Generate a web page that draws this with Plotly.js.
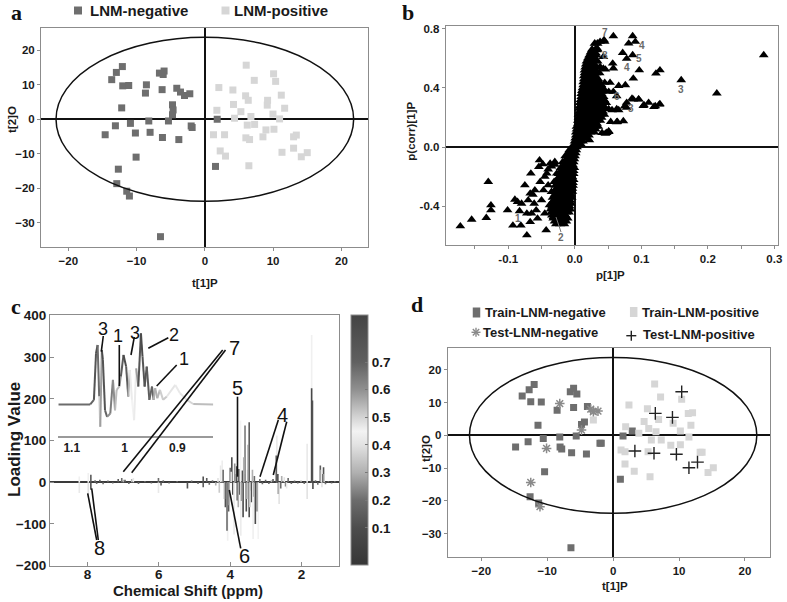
<!DOCTYPE html>
<html><head><meta charset="utf-8">
<script src="https://cdn.plot.ly/plotly-3.0.1.min.js"></script>
<style>html,body{margin:0;padding:0;background:#fff}#chart{width:787px;height:602px}</style>
</head><body><div id="chart"></div>
<script>
// ---------- Panel a : OPLS-DA scores ----------
const aNegX = [-12.96,-12.08,-13.64,-12.03,-11.15,-8.56,-8.70,-6.65,-5.97,-6.10,-6.26,-4.11,-3.57,-2.98,-2.20,-4.74,-4.65,-4.74,-5.33,-2.00,-1.86,-12.18,-8.21,-10.90,-13.10,-14.60,-10.17,-8.02,-6.21,-3.81,-10.07,-12.67,-12.90,-11.44,-11.05,-6.50,1.81,1.56];
const aNegY = [13.6,15.3,11.5,9.7,9.8,10.0,7.6,13.4,14.0,13.0,8.6,9.0,7.9,6.9,7.4,4.2,2.7,1.3,-0.5,-1.95,-2.4,3.3,-0.5,-1.2,-1.9,-4.5,-4.0,-3.8,-5.3,-5.9,-11.0,-14.5,-18.7,-20.9,-22.3,-34.1,0.0,-13.7];
const aPosX = [6.06,2.05,4.11,7.24,10.07,10.37,5.97,6.36,9.19,9.14,11.2,11.69,4.2,5.28,1.76,4.35,6.75,9.98,10.95,6.21,7.29,1.27,2.89,6.01,6.55,8.51,8.95,10.12,13.0,13.4,2.25,3.03,6.45,11.3,13.0,14.13,15.0];
const aPosY = [15.7,9.2,8.5,11.3,13.2,11.0,6.8,5.5,5.5,4.1,7.0,3.2,4.3,2.2,2.6,0.3,0.8,1.5,0.1,-1.7,-1.5,-4.5,-4.5,-5.4,-5.9,-5.1,-3.1,-2.9,-5.1,-4.6,-9.2,-10.7,-13.5,-9.6,-8.4,-10.9,-9.7];
const t1Ticks = [-20,-10,0,10,20];
const t2Ticks = [-30,-20,-10,0,10,20];
const ellipseT1 = 21.8, ellipseT2 = 23.8;

// ---------- Panel b : S-plot (p[1]P vs p(corr)[1]P) ----------
const pX = [
 0.284,0.2135,0.160,0.128,0.122,0.128,0.121,0.111,0.104,0.096,0.088,0.097,0.088,0.087,0.081,0.091,0.072,0.087,0.078,0.058,0.044,0.045,0.038,0.057,0.058,0.046,0.066,0.076,0.053,0.045,0.037,0.028,0.058,0.051,0.041,0.033,0.063,0.078,0.078,0.063,0.051,0.063,0.073,0.041,0.051,0.048,0.038,0.033,0.032,0.026,0.023,0.021,0.022,0.033,0.026,0.028,0.043,0.086,0.096,0.103,0.119,0.127,0.056,0.066,0.075,0.054,0.064,0.046,0.051,0.043,0.034,0.020,
 -0.172,-0.155,-0.133,-0.130,-0.126,-0.126,-0.101,-0.093,-0.090,-0.086,-0.083,-0.081,-0.072,-0.067,-0.066,-0.067,-0.061,-0.056,-0.053,-0.050,-0.048,-0.045,-0.043,-0.042,-0.040,-0.037,-0.035,-0.030,-0.032,-0.075,-0.072,-0.060,-0.052,-0.070,-0.080,-0.065,-0.058,-0.047,-0.027,-0.025,-0.022,-0.038,-0.031,-0.017,-0.012,-0.010,-0.054,-0.030,-0.063,-0.045,-0.040,-0.035
];
const pY = [
 0.622,0.363,0.453,0.520,0.498,0.291,0.277,0.300,0.284,0.324,0.322,0.520,0.464,0.750,0.700,0.712,0.637,0.622,0.597,0.750,0.723,0.712,0.712,0.565,0.532,0.525,0.414,0.419,0.435,0.435,0.435,0.435,0.374,0.374,0.374,0.374,0.345,0.266,0.300,0.257,0.257,0.169,0.176,0.097,0.108,0.097,0.543,0.655,0.633,0.577,0.520,0.554,0.047,0.500,0.480,0.450,0.610,0.328,0.322,0.279,0.272,0.288,0.250,0.250,0.276,0.171,0.171,0.092,0.103,0.531,0.665,0.575,
 -0.534,-0.489,-0.477,-0.234,-0.392,-0.426,-0.426,-0.529,-0.354,-0.369,-0.432,-0.529,-0.595,-0.505,-0.178,-0.313,-0.381,-0.482,-0.088,-0.358,-0.115,-0.448,-0.561,-0.178,-0.257,-0.110,-0.302,-0.099,-0.471,-0.257,-0.448,-0.291,-0.234,-0.358,-0.381,-0.448,-0.426,-0.291,-0.178,-0.358,-0.426,-0.392,-0.234,-0.448,-0.358,-0.403,-0.133,-0.118,-0.320,-0.200,-0.150,-0.130
];
// dense central band of the S-plot
const pCoreX = [
 -0.028,-0.022,-0.016,
 -0.030,-0.024,-0.018,-0.013,
 -0.032,-0.027,-0.021,-0.016,-0.011,
 -0.034,-0.029,-0.024,-0.019,-0.014,
 -0.035,-0.029,-0.023,-0.018,-0.013,-0.009,
 -0.036,-0.031,-0.026,-0.021,-0.016,-0.011,-0.007,
 -0.034,-0.028,-0.023,-0.018,-0.013,-0.008,
 -0.035,-0.030,-0.025,-0.020,-0.015,-0.010,-0.006,
 -0.032,-0.027,-0.022,-0.017,-0.012,-0.007,
 -0.033,-0.028,-0.023,-0.018,-0.013,-0.009,-0.005,
 -0.030,-0.024,-0.019,-0.014,-0.010,-0.006,
 -0.031,-0.026,-0.021,-0.016,-0.012,-0.008,-0.004,
 -0.027,-0.022,-0.017,-0.012,-0.008,-0.004,
 -0.029,-0.024,-0.019,-0.014,-0.010,-0.006,-0.003,
 -0.025,-0.020,-0.015,-0.010,-0.006,-0.003,
 -0.027,-0.022,-0.017,-0.012,-0.008,-0.004,-0.002,
 -0.022,-0.017,-0.012,-0.008,-0.004,
 -0.024,-0.019,-0.014,-0.010,-0.006,-0.002,
 -0.019,-0.014,-0.010,-0.006,-0.002,
 -0.021,-0.016,-0.012,-0.008,-0.004,-0.001,
 -0.016,-0.011,-0.007,-0.003,
 -0.018,-0.013,-0.009,-0.005,-0.002,
 -0.012,-0.008,-0.004,-0.001,
 -0.014,-0.010,-0.006,-0.003,0.000,
 -0.009,-0.005,-0.002,0.001,
 -0.008,-0.004,-0.001,0.002,
 -0.003,0.000,0.003,
 -0.001,0.002,0.005,0.009,
 0.000,0.004,0.008,0.012,
 0.001,0.005,0.009,0.014,0.019,
 0.002,0.006,0.011,0.016,0.021,
 0.002,0.007,0.012,0.017,0.023,0.029,
 0.003,0.008,0.013,0.019,0.025,0.031,
 0.003,0.008,0.013,0.018,0.024,0.030,0.035,
 0.005,0.010,0.015,0.021,0.027,0.033,
 0.005,0.010,0.015,0.020,0.026,0.032,0.038,
 0.006,0.011,0.017,0.023,0.029,0.035,0.040,
 0.006,0.011,0.016,0.021,0.027,0.033,0.039,0.044,
 0.007,0.012,0.018,0.024,0.030,0.036,0.042,
 0.007,0.012,0.017,0.022,0.028,0.034,0.040,0.046,
 0.008,0.014,0.019,0.025,0.031,0.037,0.043,
 0.008,0.013,0.018,0.023,0.029,0.035,0.041,0.047,
 0.009,0.015,0.020,0.026,0.032,0.038,0.044,
 0.010,0.015,0.020,0.025,0.031,0.037,0.043,
 0.010,0.016,0.021,0.027,0.033,0.040,
 0.011,0.016,0.021,0.026,0.032,0.038,0.045,
 0.012,0.017,0.022,0.028,0.035,0.042,
 0.013,0.018,0.023,0.028,0.034,0.040,
 0.013,0.018,0.024,0.030,0.036,
 0.014,0.019,0.024,0.029,0.035,
 0.014,0.019,0.025,0.031,
 0.015,0.020,0.025,0.031,0.037,
 0.015,0.020,0.026,0.032,
 0.016,0.021,0.027,0.033,
 0.017,0.022,0.028,
 0.018,0.023,0.029,0.034,
 0.020,0.025,0.030,
 0.022,0.027,0.032,
 0.024,0.029,
 0.026,0.031,0.034,
 0.030,0.034
];
const pCoreY = [
 -0.52,-0.52,-0.52,
 -0.50,-0.50,-0.50,-0.50,
 -0.48,-0.48,-0.48,-0.48,-0.48,
 -0.46,-0.46,-0.46,-0.46,-0.46,
 -0.44,-0.44,-0.44,-0.44,-0.44,-0.44,
 -0.42,-0.42,-0.42,-0.42,-0.42,-0.42,-0.42,
 -0.40,-0.40,-0.40,-0.40,-0.40,-0.40,
 -0.38,-0.38,-0.38,-0.38,-0.38,-0.38,-0.38,
 -0.36,-0.36,-0.36,-0.36,-0.36,-0.36,
 -0.34,-0.34,-0.34,-0.34,-0.34,-0.34,-0.34,
 -0.32,-0.32,-0.32,-0.32,-0.32,-0.32,
 -0.30,-0.30,-0.30,-0.30,-0.30,-0.30,-0.30,
 -0.28,-0.28,-0.28,-0.28,-0.28,-0.28,
 -0.26,-0.26,-0.26,-0.26,-0.26,-0.26,-0.26,
 -0.24,-0.24,-0.24,-0.24,-0.24,-0.24,
 -0.22,-0.22,-0.22,-0.22,-0.22,-0.22,-0.22,
 -0.20,-0.20,-0.20,-0.20,-0.20,
 -0.18,-0.18,-0.18,-0.18,-0.18,-0.18,
 -0.16,-0.16,-0.16,-0.16,-0.16,
 -0.14,-0.14,-0.14,-0.14,-0.14,-0.14,
 -0.12,-0.12,-0.12,-0.12,
 -0.10,-0.10,-0.10,-0.10,-0.10,
 -0.08,-0.08,-0.08,-0.08,
 -0.06,-0.06,-0.06,-0.06,-0.06,
 -0.04,-0.04,-0.04,-0.04,
 -0.02,-0.02,-0.02,-0.02,
 0.00,0.00,0.00,
 0.02,0.02,0.02,0.02,
 0.04,0.04,0.04,0.04,
 0.06,0.06,0.06,0.06,0.06,
 0.08,0.08,0.08,0.08,0.08,
 0.10,0.10,0.10,0.10,0.10,0.10,
 0.12,0.12,0.12,0.12,0.12,0.12,
 0.14,0.14,0.14,0.14,0.14,0.14,0.14,
 0.16,0.16,0.16,0.16,0.16,0.16,
 0.18,0.18,0.18,0.18,0.18,0.18,0.18,
 0.20,0.20,0.20,0.20,0.20,0.20,0.20,
 0.22,0.22,0.22,0.22,0.22,0.22,0.22,0.22,
 0.24,0.24,0.24,0.24,0.24,0.24,0.24,
 0.26,0.26,0.26,0.26,0.26,0.26,0.26,0.26,
 0.28,0.28,0.28,0.28,0.28,0.28,0.28,
 0.30,0.30,0.30,0.30,0.30,0.30,0.30,0.30,
 0.32,0.32,0.32,0.32,0.32,0.32,0.32,
 0.34,0.34,0.34,0.34,0.34,0.34,0.34,
 0.36,0.36,0.36,0.36,0.36,0.36,
 0.38,0.38,0.38,0.38,0.38,0.38,0.38,
 0.40,0.40,0.40,0.40,0.40,0.40,
 0.42,0.42,0.42,0.42,0.42,0.42,
 0.44,0.44,0.44,0.44,0.44,
 0.46,0.46,0.46,0.46,0.46,
 0.48,0.48,0.48,0.48,
 0.50,0.50,0.50,0.50,0.50,
 0.52,0.52,0.52,0.52,
 0.54,0.54,0.54,0.54,
 0.56,0.56,0.56,
 0.58,0.58,0.58,0.58,
 0.60,0.60,0.60,
 0.62,0.62,0.62,
 0.64,0.64,
 0.66,0.66,0.66,
 0.70,0.70
];
const bXTicks = [-0.1,0.0,0.1,0.2,0.3], bXTickText = ['-0.1','0.0','0.1','0.2','0.3'];
const bYTicks = [-0.4,0.0,0.4,0.8], bYTickText = ['-0.4','0.0','0.4','0.8'];
const bLabels = [['7',605,32.5],['8',605,56],['4',642.3,46],['5',638.5,58.5],['4',626.7,67.7],['6',616.7,96.5],['3',631,108.3],['3',681,90],['1',518.3,218.3],['2',561.3,237.7]];

// ---------- Panel c : loading plot ----------
const shiftPpm = [8.229,8.229,7.977,7.977,7.905,7.905,7.787,7.742,7.652,7.562,7.426,7.291,7.138,7.039,6.994,6.948,6.840,6.759,6.714,6.570,6.389,6.209,6.010,6.010,5.938,5.875,5.713,5.487,5.198,5.081,4.901,4.756,4.756,4.657,4.585,4.495,4.405,4.342,
 4.269,4.224,4.197,4.134,4.071,4.089,4.044,3.999,3.954,3.927,3.891,3.854,3.818,3.800,3.755,3.746,3.710,3.701,3.656,3.638,3.602,3.584,3.548,3.512,3.467,3.467,3.431,3.403,3.358,3.322,3.295,3.214,3.169,3.097,3.007,2.916,2.844,2.799,
 2.691,2.709,2.664,2.646,2.628,2.583,2.556,2.483,2.447,2.420,2.375,2.285,2.195,2.105,2.014,1.924,
 1.843,1.843,1.717,1.717,1.694,1.681,1.609,1.545,1.473,1.446,1.428,1.401,1.383,1.365,1.329,1.248,1.158,1.067,
 4.305,4.161,4.026,3.972,3.873,3.773,3.683,3.620,3.530,3.494,3.449,3.376,3.340,3.250];
const loadVal = [14,-26,22,-30,18,-18,5,-4,6,-5,4,-3,8,10,6,6,-4,8,10,-4,3,-3,-26,10,-8,5,-3,3,-15,4,-4,14,-12,10,-6,5,-8,10,
 40,52,30,-60,-140,-116,-70,35,60,-30,-125,20,38,-44,32,-30,148,-128,28,-84,20,136,-70,30,144,-84,-20,-48,-136,15,-100,-136,8,-5,6,-4,5,8,
 112,64,20,-28,-52,-15,15,12,-10,-15,10,-4,4,-3,4,-4,
 92,-40,353,225,196,-16,5,-6,40,30,-12,20,36,20,-5,3,-3,3,
 -25,-40,-55,25,45,-60,-45,60,-40,90,-60,30,-35,-70];
const loadCorr = [0.44,0.42,0.44,0.40,0.15,0.12,0.2,0.2,0.15,0.2,0.2,0.2,0.15,0.2,0.3,0.15,0.2,0.3,0.42,0.2,0.2,0.2,0.42,0.2,0.15,0.2,0.2,0.2,0.12,0.2,0.2,0.12,0.15,0.15,0.2,0.2,0.3,0.4,
 0.42,0.46,0.2,0.12,0.44,0.2,0.15,0.2,0.1,0.1,0.42,0.3,0.1,0.1,0.1,0.15,0.45,0.43,0.1,0.08,0.35,0.22,0.1,0.4,0.15,0.1,0.3,0.12,0.44,0.2,0.1,0.45,0.2,0.2,0.15,0.2,0.3,0.15,
 0.42,0.15,0.1,0.1,0.4,0.2,0.3,0.4,0.2,0.42,0.2,0.2,0.2,0.2,0.3,0.2,
 0.42,0.4,0.44,0.08,0.12,0.1,0.2,0.2,0.15,0.42,0.4,0.2,0.12,0.35,0.2,0.2,0.2,0.2,
 0.35,0.3,0.55,0.4,0.6,0.3,0.58,0.3,0.55,0.6,0.35,0.3,0.55,0.25];
const cXTicks = [8,6,4,2];
const cYTicks = [-200,-100,0,100,200,300,400];
const corrTicks = [0.1,0.2,0.3,0.4,0.5,0.6,0.7];
// inset: zoom of 1.13-0.83 ppm
const insetPpm = [1.125,1.065,1.058,1.054,1.051,1.048,1.046,1.043,1.041,1.037,1.033,1.027,1.022,1.018,1.015,1.010,1.007,1.002,0.997,0.993,0.990,0.986,0.982,0.978,0.974,0.969,0.966,0.962,0.958,0.953,0.948,0.945,0.942,0.938,0.933,0.927,0.920,0.904,0.895,0.882,0.870,0.832];
const insetVal = [186,186,197,309,329,205,132,317,293,172,156,164,245,172,221,229,253,305,277,205,269,197,148,273,229,357,301,229,277,197,229,197,225,201,221,197,205,233,213,197,187,186];
const insetCorr = [0.2,0.2,0.15,0.1,0.1,0.3,0.45,0.1,0.1,0.15,0.2,0.3,0.15,0.35,0.3,0.35,0.2,0.1,0.1,0.2,0.4,0.45,0.45,0.4,0.15,0.1,0.1,0.15,0.1,0.2,0.15,0.2,0.4,0.2,0.42,0.3,0.4,0.42,0.42,0.4,0.35,0.3];
const insetTicks = [1.1,1.0,0.9], insetTickText = ['1.1','1','0.9'];

// ---------- Panel d : scores with test set ----------
const trNegX = [-13.8,-12.74,-11.98,-12.5,-10.9,-8.5,-6.5,-6.0,-5.5,-6.0,-3.9,-4.8,-4.35,-11.4,-10.6,-8.1,-5.6,-12.9,-14.8,-8.05,-7.8,-6.3,-4.05,-2.0,-1.8,-10.4,-12.6,-11.3,-6.4,1.5,2.9,1.1];
const trNegY = [12.0,13.9,15.5,10.3,10.2,7.7,13.3,14.4,12.6,8.5,8.8,3.3,4.1,3.1,-1.0,-0.5,-0.2,-2.0,-3.6,-3.6,-4.2,-5.3,-5.7,-2.4,-2.4,-11.1,-18.8,-20.7,-34.4,-0.2,1.3,-13.4];
const trPosX = [6.3,7.2,2.4,10.4,11.4,12.05,5.2,6.9,4.7,9.1,11.8,-3.0,1.9,5.4,6.5,3.9,10.2,11.5,5.8,7.3,8.75,10.2,1.2,1.8,5.3,13.2,13.5,1.8,3.2,5.6,14.4,15.2];
const trPosY = [15.7,11.7,9.3,11.0,6.7,6.9,8.1,4.8,4.2,3.7,3.1,4.7,2.6,2.1,1.1,0.6,1.3,-0.5,-1.4,-1.4,-3.0,-2.9,-4.5,-5.0,-5.0,-5.2,-5.2,-8.8,-11.0,-12.7,-11.4,-9.9];
const teNegX = [-8.1,-3.4,-3.0,-2.3,-4.8,-10.1,-12.5,-11.1];
const teNegY = [9.7,8.0,7.2,7.4,1.6,-4.0,-14.4,-21.8];
const tePosX = [10.4,6.4,9.0,3.3,6.2,9.6,11.5,12.8];
const tePosY = [13.3,6.7,5.5,-4.8,-5.5,-5.8,-9.9,-8.2];

// ---------- helpers ----------
const W = 787, H = 602;
const fx = x => x / W, fy = y => 1 - y / H;
const SANS = 'Liberation Sans, Arial, sans-serif';
const SERIF = 'Liberation Serif, Times New Roman, serif';
const bold = (size, color) => ({family: SANS, size: size, color: color || '#1a1a1a', weight: 'bold'});
const DARK = '#6e6e6e', LIGHT = '#d6d6d6', FRAME = '#8c8c8c';

const cmin = -0.034, cmax = 0.87;
const grayStops = [[-0.034,'#363636'],[0.1,'#4c4c4c'],[0.2,'#6c6c6c'],[0.3,'#b0b0b0'],[0.4,'#e2e2e2'],[0.45,'#f3f3f3'],[0.5,'#d4d4d4'],[0.6,'#909090'],[0.7,'#606060'],[0.87,'#444444']];
const grayScale = grayStops.map(s => [(s[0]-cmin)/(cmax-cmin), s[1]]);
grayScale[grayScale.length-1][0] = 1;
function hex2rgb(h){return [parseInt(h.substr(1,2),16),parseInt(h.substr(3,2),16),parseInt(h.substr(5,2),16)];}
function corrColor(c){
  const t = Math.max(0, Math.min(1, (c - cmin) / (cmax - cmin)));
  for (let i = 0; i < grayScale.length - 1; i++) {
    const [t0, c0] = grayScale[i], [t1, c1] = grayScale[i+1];
    if (t <= t1) {
      const f = (t - t0) / (t1 - t0), a = hex2rgb(c0), b = hex2rgb(c1);
      return 'rgb(' + a.map((v,k) => Math.round(v + (b[k]-v)*f)).join(',') + ')';
    }
  }
  return grayScale[grayScale.length-1][1];
}

function ax(domain, range, extra){
  return Object.assign({domain: domain, range: range, showgrid: false, zeroline: false, showline: true, mirror: true,
    linecolor: FRAME, linewidth: 1, ticks: 'outside', ticklen: 3, tickcolor: FRAME, tickfont: bold(11.5),
    fixedrange: true, automargin: false}, extra);
}
const zl = {zeroline: true, zerolinecolor: '#111', zerolinewidth: 2};

// ---------- traces ----------
const traces = [];
traces.push({type:'scatter', mode:'markers', x:aNegX, y:aNegY, xaxis:'x', yaxis:'y', name:'LNM-negative',
  marker:{symbol:'square', size:7, color:DARK}});
traces.push({type:'scatter', mode:'markers', x:aPosX, y:aPosY, xaxis:'x', yaxis:'y', name:'LNM-positive',
  marker:{symbol:'square', size:7, color:LIGHT}});
traces.push({type:'scatter', mode:'markers', x:pCoreX, y:pCoreY, xaxis:'x2', yaxis:'y2', name:'variables (core)',
  marker:{symbol:'triangle-up', size:9, color:'#000'}});
traces.push({type:'scatter', mode:'markers', x:pX, y:pY, xaxis:'x2', yaxis:'y2', name:'variables',
  marker:{symbol:'triangle-up', size:8.5, color:'#000'}});
traces.push({type:'bar', x:shiftPpm, y:loadVal, xaxis:'x3', yaxis:'y3', width:0.045, name:'loading',
  marker:{color:loadCorr, colorscale:grayScale, cmin:cmin, cmax:cmax, line:{width:0}, showscale:true,
    colorbar:{x:fx(351), xanchor:'left', xpad:0, y:fy(565), yanchor:'bottom', ypad:0, len:250/H, lenmode:'fraction',
      thickness:17, thicknessmode:'pixels', outlinewidth:1, outlinecolor:FRAME, tickvals:corrTicks,
      ticks:'inside', ticklen:3, tickcolor:'#777', tickfont:bold(13.5)}}});
for (let i = 0; i < insetPpm.length - 1; i++) {
  traces.push({type:'scatter', mode:'lines', x:[insetPpm[i], insetPpm[i+1]], y:[insetVal[i], insetVal[i+1]],
    xaxis:'x5', yaxis:'y5', hoverinfo:'skip',
    line:{color:corrColor((insetCorr[i]+insetCorr[i+1])/2), width:2}});
}
traces.push({type:'scatter', mode:'markers', x:trNegX, y:trNegY, xaxis:'x4', yaxis:'y4', name:'Train-LNM-negative',
  marker:{symbol:'square', size:7, color:DARK}});
traces.push({type:'scatter', mode:'markers', x:trPosX, y:trPosY, xaxis:'x4', yaxis:'y4', name:'Train-LNM-positive',
  marker:{symbol:'square', size:7, color:LIGHT}});
traces.push({type:'scatter', mode:'markers', x:teNegX, y:teNegY, xaxis:'x4', yaxis:'y4', name:'Test-LNM-negative',
  marker:{symbol:'asterisk-open', size:8, color:'#8a8a8a', line:{color:'#8a8a8a', width:1.5}}});
traces.push({type:'scatter', mode:'markers', x:tePosX, y:tePosY, xaxis:'x4', yaxis:'y4', name:'Test-LNM-positive',
  marker:{symbol:'cross-thin-open', size:9, color:'#222', line:{color:'#222', width:1.4}}});

// ---------- annotations ----------
const ann = [];
function txt(t, x, y, font, extra){ ann.push(Object.assign({text:t, x:fx(x), y:fy(y), xref:'paper', yref:'paper', showarrow:false, font:font, xanchor:'center', yanchor:'middle'}, extra||{})); }
const letter = {family:SERIF, size:22, color:'#111', weight:'bold'};
txt('a', 16, 12, letter); txt('b', 408, 12, letter); txt('c', 16, 306, letter); txt('d', 417, 304, letter);
txt('LNM-negative', 88, 10.5, bold(15), {xanchor:'left'});
txt('LNM-positive', 231.5, 10.5, bold(15), {xanchor:'left'});
txt('Train-LNM-negative', 482.5, 312, bold(13), {xanchor:'left'});
txt('Train-LNM-positive', 640, 312, bold(13), {xanchor:'left'});
txt('Test-LNM-negative', 481, 332.3, bold(13), {xanchor:'left'});
txt('Test-LNM-positive', 640.5, 334.7, bold(13), {xanchor:'left'});
txt('t[2]O', 12.5, 119.5, bold(11.5), {textangle:-90});
txt('t[1]P', 204.5, 283, bold(11.5));
txt('p(corr)[1]P', 411, 131.7, bold(11.5), {textangle:-90});
txt('p[1]P', 610.8, 275, bold(11.5));
txt('Loading Value', 14, 440, bold(17), {textangle:-90});
txt('Chemical Shift (ppm)', 188, 590.5, bold(15));
txt('t[2]O', 426, 449, bold(11.5), {textangle:-90});
txt('t[1]P', 615, 585.7, bold(11.5));
bLabels.forEach(l => txt(l[0], l[1], l[2], bold(10, '#6a6a6a')));
const cNum = {family: SANS, size: 20, color:'#111'};
txt('7', 234, 348.3, cNum); txt('5', 237.7, 388, cNum); txt('4', 282.5, 415, cNum); txt('6', 244, 556, cNum); txt('8', 99.3, 547.5, cNum);
const iNum = {family: SANS, size: 18, color:'#111'};
txt('3', 102.7, 329.3, iNum); txt('1', 118.3, 335.7, iNum); txt('3', 135, 332.7, iNum); txt('2', 174.3, 335, iNum); txt('1', 184, 359.3, iNum);

// ---------- shapes ----------
const shp = [];
shp.push({type:'circle', xref:'x', yref:'y', x0:-ellipseT1, x1:ellipseT1, y0:-ellipseT2, y1:ellipseT2, line:{color:'#111', width:1.5}});
shp.push({type:'circle', xref:'x4', yref:'y4', x0:-ellipseT1, x1:ellipseT1, y0:-ellipseT2, y1:ellipseT2, line:{color:'#111', width:1.5}});
function seg(x0,y0,x1,y1,color,width){ shp.push({type:'line', xref:'paper', yref:'paper', x0:fx(x0), y0:fy(y0), x1:fx(x1), y1:fy(y1), line:{color:color||'#111', width:width||1.6}}); }
function sq(cx,cy,w,h,color){ shp.push({type:'rect', xref:'paper', yref:'paper', x0:fx(cx-w/2), x1:fx(cx+w/2), y0:fy(cy+h/2), y1:fy(cy-h/2), fillcolor:color, line:{width:0}}); }
sq(78, 10.5, 8, 8, DARK); sq(225.5, 10.5, 8, 8, LIGHT);
sq(476.5, 312.5, 7.5, 10, DARK); sq(633.7, 312, 7.5, 10, LIGHT);
[[0,4.5],[4.5,0],[3.2,3.2],[3.2,-3.2]].forEach(d => seg(476-d[0], 332.3-d[1], 476+d[0], 332.3+d[1], '#8a8a8a', 1.4));
seg(626.3, 335.7, 636.3, 335.7, '#222', 1.4); seg(631.3, 330.7, 631.3, 340.7, '#222', 1.4);
seg(222.7,350,123.3,471.7); seg(225.5,350,131.7,472.7);
seg(237.5,396.7,237.5,476.7);
seg(278.3,420,260,476.7); seg(286.7,421.7,273.3,475);
seg(240.7,548.3,229.3,490);
seg(96.7,540,87.7,493.3); seg(98.3,540,91.7,488.3);
seg(103.3,336,101.3,351.7); seg(119.3,345,119.3,386); seg(134.3,337,131,355); seg(168.3,337.7,148.3,348.3); seg(176.7,365,156.7,386);
seg(561,232,556,217,'#777',1);

// ---------- layout ----------
const layout = {
  width: W, height: H, margin: {l:0, r:0, t:0, b:0}, paper_bgcolor:'#fff', plot_bgcolor:'#fff',
  showlegend:false, barmode:'overlay', hovermode:false, font:{family:SANS, color:'#1a1a1a'},
  xaxis:  ax([fx(41), fx(368)], [-24, 23.9], Object.assign({anchor:'y', tickvals:t1Ticks}, zl)),
  yaxis:  ax([fy(247), fy(28)], [-37.1, 26.5], Object.assign({anchor:'x', tickvals:t2Ticks}, zl)),
  xaxis2: ax([fx(445.7), fx(777.7)], [-0.194, 0.305], Object.assign({anchor:'y2', tickvals:bXTicks, ticktext:bXTickText,
            minor:{tickvals:[-0.15,-0.05,0.05,0.15,0.25], ticklen:3, tickcolor:FRAME, ticks:'outside'}}, zl)),
  yaxis2: ax([fy(245), fy(26)], [-0.661, 0.818], Object.assign({anchor:'x2', tickvals:bYTicks, ticktext:bYTickText}, zl)),
  xaxis3: ax([fx(50), fx(339)], [9.05, 0.95], {anchor:'y3', tickvals:cXTicks, ticks:'inside', ticklen:4, tickfont:bold(13.5), ticklabelstandoff:-4}),
  yaxis3: ax([fy(565.7), fy(315.3)], [-200, 400], {anchor:'x3', tickvals:cYTicks, ticks:'inside', ticklen:4, tickfont:bold(13.5),
            zeroline:true, zerolinecolor:'#3a3a3a', zerolinewidth:1.8}),
  xaxis4: ax([fx(447.7), fx(770)], [-25.1, 23.8], Object.assign({anchor:'y4', tickvals:t1Ticks}, zl)),
  yaxis4: ax([fy(556.7), fy(348.3)], [-37.1, 26.6], Object.assign({anchor:'x4', tickvals:t2Ticks}, zl)),
  xaxis5: {domain:[fx(58), fx(213.3)], range:[1.126, 0.832], anchor:'y5', showgrid:false, zeroline:false, showline:true, mirror:false,
           linecolor:'#9a9a9a', linewidth:2, ticks:'', tickvals:insetTicks, ticktext:insetTickText, tickfont:bold(12), fixedrange:true, automargin:false},
  yaxis5: {domain:[fy(435.7), fy(320)], range:[110.7, 389.2], anchor:'x5', visible:false, fixedrange:true},
  annotations: ann, shapes: shp
};
Plotly.newPlot('chart', traces, layout, {staticPlot:true, displayModeBar:false});
</script></body></html>
